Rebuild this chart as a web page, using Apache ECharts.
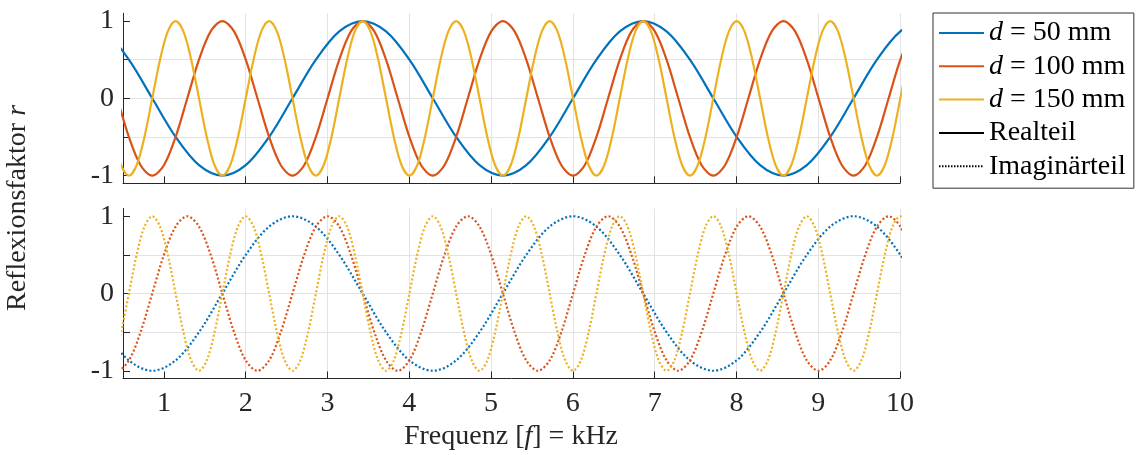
<!DOCTYPE html>
<html>
<head>
<meta charset="utf-8">
<script src="https://cdn.jsdelivr.net/npm/echarts@6/dist/echarts.min.js"></script>
<style>
html,body{margin:0;padding:0;background:#fff;}
#c{width:1143px;height:455px;}
</style>
</head>
<body>
<div id="c"></div>
<script>
// Frequency positions (kHz) read for each curve (extrema, zero crossings and intermediate points)
const f50 = [0, 0.2858, 0.5717, 0.8575, 1.1433, 1.4292, 1.715, 2.0008, 2.2867, 2.5725, 2.8583, 3.1442,
  3.43, 3.7158, 4.0017, 4.2875, 4.5733, 4.8592, 5.145, 5.4308, 5.7167, 6.0025, 6.2883, 6.5742,
  6.86, 7.1458, 7.4317, 7.7175, 8.0033, 8.2892, 8.575, 8.8608, 9.1467, 9.4325, 9.7183, 10.0042,
  10.29];
const re50 = [1, 0.866, 0.5, 0, -0.5, -0.866, -1, -0.866, -0.5, 0, 0.5, 0.866,
  1, 0.866, 0.5, 0, -0.5, -0.866, -1, -0.866, -0.5, 0, 0.5, 0.866,
  1, 0.866, 0.5, 0, -0.5, -0.866, -1, -0.866, -0.5, 0, 0.5, 0.866,
  1];
const im50 = [0, -0.5, -0.866, -1, -0.866, -0.5, 0, 0.5, 0.866, 1, 0.866, 0.5,
  0, -0.5, -0.866, -1, -0.866, -0.5, 0, 0.5, 0.866, 1, 0.866, 0.5,
  0, -0.5, -0.866, -1, -0.866, -0.5, 0, 0.5, 0.866, 1, 0.866, 0.5,
  0];

const f100 = [0.2858, 0.4288, 0.5717, 0.7146, 0.8575, 1.0004, 1.1433, 1.2863, 1.4292, 1.5721,
  1.715, 1.8579, 2.0008, 2.1438, 2.2867, 2.4296, 2.5725, 2.7154, 2.8583, 3.0013, 3.1442, 3.2871,
  3.43, 3.5729, 3.7158, 3.8588, 4.0017, 4.1446, 4.2875, 4.4304, 4.5733, 4.7163, 4.8592, 5.0021,
  5.145, 5.2879, 5.4308, 5.5738, 5.7167, 5.8596, 6.0025, 6.1454, 6.2883, 6.4313, 6.5742, 6.7171,
  6.86, 7.0029, 7.1458, 7.2888, 7.4317, 7.5746, 7.7175, 7.8604, 8.0033, 8.1463, 8.2892, 8.4321,
  8.575, 8.7179, 8.8608, 9.0038, 9.1467, 9.2896, 9.4325, 9.5754, 9.7183, 9.8613, 10.0042, 10.1471];
const re100 = [0.5, 0, -0.5, -0.866, -1, -0.866, -0.5, 0, 0.5, 0.866,
  1, 0.866, 0.5, 0, -0.5, -0.866, -1, -0.866, -0.5, 0, 0.5, 0.866,
  1, 0.866, 0.5, 0, -0.5, -0.866, -1, -0.866, -0.5, 0, 0.5, 0.866,
  1, 0.866, 0.5, 0, -0.5, -0.866, -1, -0.866, -0.5, 0, 0.5, 0.866,
  1, 0.866, 0.5, 0, -0.5, -0.866, -1, -0.866, -0.5, 0, 0.5, 0.866,
  1, 0.866, 0.5, 0, -0.5, -0.866, -1, -0.866, -0.5, 0, 0.5, 0.866];
const im100 = [-0.866, -1, -0.866, -0.5, 0, 0.5, 0.866, 1, 0.866, 0.5,
  0, -0.5, -0.866, -1, -0.866, -0.5, 0, 0.5, 0.866, 1, 0.866, 0.5,
  0, -0.5, -0.866, -1, -0.866, -0.5, 0, 0.5, 0.866, 1, 0.866, 0.5,
  0, -0.5, -0.866, -1, -0.866, -0.5, 0, 0.5, 0.866, 1, 0.866, 0.5,
  0, -0.5, -0.866, -1, -0.866, -0.5, 0, 0.5, 0.866, 1, 0.866, 0.5,
  0, -0.5, -0.866, -1, -0.866, -0.5, 0, 0.5, 0.866, 1, 0.866, 0.5];

const f150 = [0.3811, 0.4764, 0.5717, 0.6669, 0.7622, 0.8575, 0.9528, 1.0481,
  1.1433, 1.2386, 1.3339, 1.4292, 1.5244, 1.6197, 1.715, 1.8103, 1.9056, 2.0008, 2.0961, 2.1914,
  2.2867, 2.3819, 2.4772, 2.5725, 2.6678, 2.7631, 2.8583, 2.9536, 3.0489, 3.1442, 3.2394, 3.3347,
  3.43, 3.5253, 3.6206, 3.7158, 3.8111, 3.9064, 4.0017, 4.0969, 4.1922, 4.2875, 4.3828, 4.4781,
  4.5733, 4.6686, 4.7639, 4.8592, 4.9544, 5.0497, 5.145, 5.2403, 5.3356, 5.4308, 5.5261, 5.6214,
  5.7167, 5.8119, 5.9072, 6.0025, 6.0978, 6.1931, 6.2883, 6.3836, 6.4789, 6.5742, 6.6694, 6.7647,
  6.86, 6.9553, 7.0506, 7.1458, 7.2411, 7.3364, 7.4317, 7.5269, 7.6222, 7.7175, 7.8128, 7.9081,
  8.0033, 8.0986, 8.1939, 8.2892, 8.3844, 8.4797, 8.575, 8.6703, 8.7656, 8.8608, 8.9561, 9.0514,
  9.1467, 9.2419, 9.3372, 9.4325, 9.5278, 9.6231, 9.7183, 9.8136, 9.9089, 10.0042, 10.0994];
const re150 = [-0.5, -0.866, -1, -0.866, -0.5, 0, 0.5, 0.866,
  1, 0.866, 0.5, 0, -0.5, -0.866, -1, -0.866, -0.5, 0, 0.5, 0.866,
  1, 0.866, 0.5, 0, -0.5, -0.866, -1, -0.866, -0.5, 0, 0.5, 0.866,
  1, 0.866, 0.5, 0, -0.5, -0.866, -1, -0.866, -0.5, 0, 0.5, 0.866,
  1, 0.866, 0.5, 0, -0.5, -0.866, -1, -0.866, -0.5, 0, 0.5, 0.866,
  1, 0.866, 0.5, 0, -0.5, -0.866, -1, -0.866, -0.5, 0, 0.5, 0.866,
  1, 0.866, 0.5, 0, -0.5, -0.866, -1, -0.866, -0.5, 0, 0.5, 0.866,
  1, 0.866, 0.5, 0, -0.5, -0.866, -1, -0.866, -0.5, 0, 0.5, 0.866,
  1, 0.866, 0.5, 0, -0.5, -0.866, -1, -0.866, -0.5, 0, 0.5];
const im150 = [-0.866, -0.5, 0, 0.5, 0.866, 1, 0.866, 0.5,
  0, -0.5, -0.866, -1, -0.866, -0.5, 0, 0.5, 0.866, 1, 0.866, 0.5,
  0, -0.5, -0.866, -1, -0.866, -0.5, 0, 0.5, 0.866, 1, 0.866, 0.5,
  0, -0.5, -0.866, -1, -0.866, -0.5, 0, 0.5, 0.866, 1, 0.866, 0.5,
  0, -0.5, -0.866, -1, -0.866, -0.5, 0, 0.5, 0.866, 1, 0.866, 0.5,
  0, -0.5, -0.866, -1, -0.866, -0.5, 0, 0.5, 0.866, 1, 0.866, 0.5,
  0, -0.5, -0.866, -1, -0.866, -0.5, 0, 0.5, 0.866, 1, 0.866, 0.5,
  0, -0.5, -0.866, -1, -0.866, -0.5, 0, 0.5, 0.866, 1, 0.866, 0.5,
  0, -0.5, -0.866, -1, -0.866, -0.5, 0, 0.5, 0.866, 1, 0.866];

const seriesNames = ['d50', 'd100', 'd150'];
const legendLabels = {
  d50: '{i|d} = 50 mm',
  d100: '{i|d} = 100 mm',
  d150: '{i|d} = 150 mm',
  'Realteil': 'Realteil',
  'Imaginärteil': 'Imaginärteil'
};
const xTicks = [1, 2, 3, 4, 5, 6, 7, 8, 9, 10];
const yTicks = [-1, -0.5, 0, 0.5, 1];
const yLabels = [-1, 0, 1];

const colors = ['#0072BD', '#D95319', '#EDB120'];
const FONT = "'Liberation Serif', 'DejaVu Serif', serif";
const FS = 28;

const chart = echarts.init(document.getElementById('c'), null, {renderer: 'canvas'});

function pairs(xs, ys) { return xs.map((x, i) => [x, ys[i]]); }

const grids = [
  {left: 123, top: 13.3, width: 777, height: 170},
  {left: 123, top: 208.5, width: 777, height: 170}
];

function xAxis(idx, showLabels) {
  return {
    type: 'value', gridIndex: idx, min: 0.5, max: 10, splitNumber: 10,
    axisLine: {show: true, onZero: false, lineStyle: {color: '#262626', width: 1}},
    axisTick: {show: true, inside: true, length: 7, customValues: xTicks, lineStyle: {color: '#262626'}},
    axisLabel: {show: showLabels, customValues: xTicks, margin: 11, color: '#262626',
      fontFamily: FONT, fontSize: FS},
    splitLine: {show: true, showMinLine: false, lineStyle: {color: '#e3e3e3', width: 1}}
  };
}
function yAxis(idx) {
  return {
    type: 'value', gridIndex: idx, min: -1.1, max: 1.1, splitNumber: 4,
    axisLine: {show: true, lineStyle: {color: '#262626', width: 1}},
    axisTick: {show: true, inside: true, length: 7, customValues: yTicks, lineStyle: {color: '#262626'}},
    axisLabel: {show: true, customValues: yLabels, margin: 9, color: '#262626',
      fontFamily: FONT, fontSize: FS, formatter: v => String(v)},
    splitLine: {show: true, showMinLine: false, showMaxLine: false, lineStyle: {color: '#e3e3e3', width: 1}}
  };
}

const fx = [f50, f100, f150];
const res = [re50, re100, re150];
const ims = [im50, im100, im150];
const series = [];
for (let i = 0; i < 3; i++) {
  series.push({
    name: seriesNames[i], type: 'line', xAxisIndex: 0, yAxisIndex: 0,
    data: pairs(fx[i], res[i]), smooth: 0.33, symbol: 'none', clip: true,
    color: colors[i], lineStyle: {width: 2.2, color: colors[i]}
  });
}
for (let i = 0; i < 3; i++) {
  series.push({
    name: seriesNames[i], type: 'line', xAxisIndex: 1, yAxisIndex: 1,
    data: pairs(fx[i], ims[i]), smooth: 0.33, symbol: 'none', clip: true,
    color: colors[i], lineStyle: {width: 2.2, color: colors[i], type: [2, 2.2]}
  });
}
series.push({name: 'Realteil', type: 'line', xAxisIndex: 0, yAxisIndex: 0, data: [],
  symbol: 'none', color: '#000', lineStyle: {width: 2, color: '#000'}});
series.push({name: 'Imaginärteil', type: 'line', xAxisIndex: 0, yAxisIndex: 0, data: [],
  symbol: 'none', color: '#000', lineStyle: {width: 2, color: '#000', type: [1.5, 1.5]}});

const richText = {
  i: {fontStyle: 'italic', fontFamily: FONT, fontSize: FS, color: '#000', lineHeight: 32}
};

chart.setOption({
  animation: false,
  backgroundColor: '#fff',
  grid: grids,
  xAxis: [xAxis(0, false), xAxis(1, true)],
  yAxis: [yAxis(0), yAxis(1)],
  legend: {
    data: ['d50', 'd100', 'd150', 'Realteil', 'Imaginärteil'],
    orient: 'vertical', left: 933, top: 13,
    itemWidth: 45, itemHeight: 14, itemGap: 1.3,
    padding: [4, 8, 6, 5],
    borderColor: '#333', borderWidth: 1, borderRadius: 0,
    selectedMode: false,
    itemStyle: {opacity: 0},
    textStyle: {fontFamily: FONT, fontSize: FS, color: '#000', lineHeight: 32, rich: richText},
    formatter: name => legendLabels[name]
  },
  graphic: [
    {
      type: 'text', x: 18, y: 208, rotation: Math.PI / 2,
      style: {text: 'Reflexionsfaktor {i|r}', fontFamily: FONT, fontSize: FS, fill: '#262626',
        align: 'center', verticalAlign: 'middle', rich: richText}
    },
    {
      type: 'text', x: 511, y: 437,
      style: {text: 'Frequenz [{i|f}] = kHz', fontFamily: FONT, fontSize: FS, fill: '#262626',
        align: 'center', verticalAlign: 'middle', rich: richText}
    }
  ],
  series: series
});
</script>
</body>
</html>
